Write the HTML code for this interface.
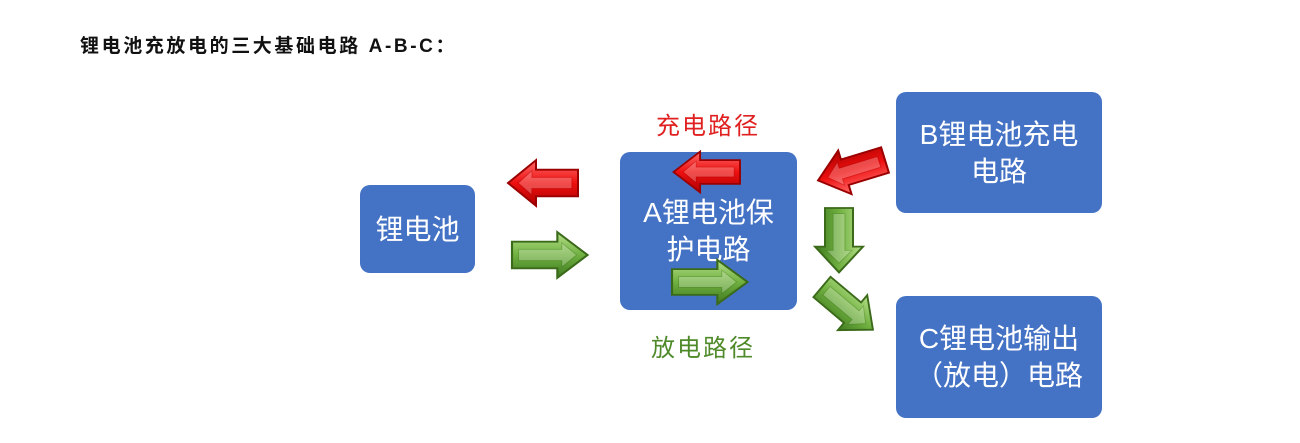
<!DOCTYPE html>
<html><head><meta charset="utf-8">
<style>
body{margin:0;width:1300px;height:443px;background:#fff;overflow:hidden;position:relative;font-family:"Liberation Sans","Noto Sans CJK SC",sans-serif}
.t{position:absolute;white-space:nowrap}
.box{position:absolute;background:#4472c4;border-radius:10px;color:#fff;display:flex;align-items:center;justify-content:center;text-align:center;font-size:28px;line-height:37px;white-space:nowrap}
</style></head><body>
<div class="t" style="left:80px;top:31px;font-size:19px;font-weight:bold;letter-spacing:2.6px;color:#111">锂电池充放电的三大基础电路 A-B-C：</div>
<div class="t" style="left:656px;top:106px;font-size:24px;letter-spacing:2px;color:#e02020">充电路径</div>
<div class="t" style="left:651px;top:328px;font-size:24px;letter-spacing:2px;color:#4f8a2a">放电路径</div>
<div class="box" style="left:360px;top:185px;width:115px;height:88px">锂电池</div>
<div class="box" style="left:620px;top:152px;width:177px;height:158px">A锂电池保<br>护电路</div>
<div class="box" style="left:896px;top:92px;width:206px;height:121px">B锂电池充电<br>电路</div>
<div class="box" style="left:896px;top:296px;width:206px;height:122px">C锂电池输出<br>（放电）电路</div>
<svg width="1300" height="443" style="position:absolute;left:0;top:0">
<defs>
<linearGradient id="r" x1="0" y1="0" x2="0" y2="1"><stop offset="0" stop-color="#ff6a6a"/><stop offset=".5" stop-color="#ee1010"/><stop offset="1" stop-color="#b00000"/></linearGradient>
<linearGradient id="g" x1="0" y1="0" x2="0" y2="1"><stop offset="0" stop-color="#b6e08a"/><stop offset=".5" stop-color="#70b040"/><stop offset="1" stop-color="#3f7a20"/></linearGradient>
<g id="ar"><polygon points="0,-14 42,-14 42,-24 70,0 42,24 42,14 0,14" stroke-width="2"/><polygon points="6,-6 46,-6 46,-13 60,0 46,13 46,6 6,6" fill="#fff" opacity=".25"/></g>
</defs>
<g fill="url(#r)" stroke="#9a0000">
<use href="#ar" transform="translate(578,183) scale(-1,1) scale(1,0.95)"/>
<use href="#ar" transform="translate(740,172) scale(-0.95,0.85)"/>
<use href="#ar" transform="translate(885,160) rotate(163) scale(1,0.95)"/>
</g>
<g fill="url(#g)" stroke="#3a6a1a">
<use href="#ar" transform="translate(512,255) scale(1.08,0.95)"/>
<use href="#ar" transform="translate(672,282) scale(1.08,0.92)"/>
<use href="#ar" transform="translate(839,208) rotate(90) scale(0.92,1)"/>
<use href="#ar" transform="translate(822,287) rotate(40) scale(0.95,0.95)"/>
</g>
</svg>
</body></html>
